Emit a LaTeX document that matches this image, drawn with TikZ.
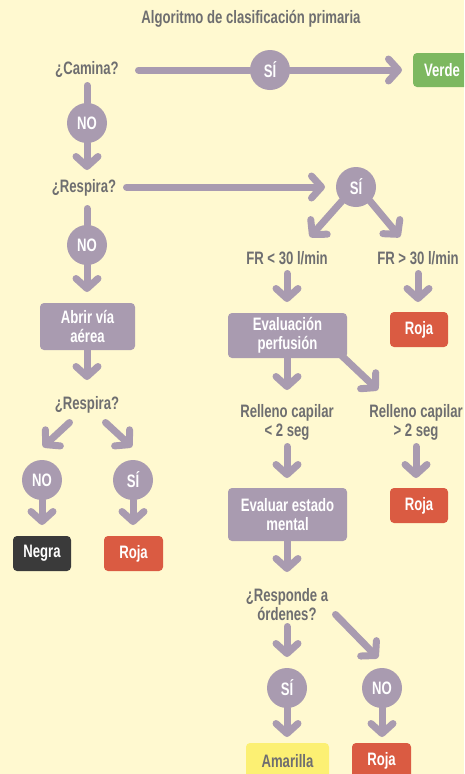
\documentclass[tikz,border=0pt]{standalone}
\usepackage{fontspec}
\newfontfamily\cf{Liberation Sans}[FakeStretch=0.73]
\usetikzlibrary{arrows.meta,calc}
\definecolor{bgc}{HTML}{FFF9D0}
\definecolor{pur}{HTML}{A99BB0}
\definecolor{txt}{HTML}{6E6E70}
\definecolor{grn}{HTML}{7DB860}
\definecolor{rja}{HTML}{DA5B42}
\definecolor{blk}{HTML}{3A3A3A}
\definecolor{ylw}{HTML}{FCF073}
\begin{document}
\begin{tikzpicture}[x=1pt,y=-1pt,
  font=\cf\bfseries\fontsize{18}{19}\selectfont,
  lbl/.style={text=txt, align=center, inner sep=0pt},
  circ/.style={circle, fill=pur, text=white, minimum size=40pt, inner sep=0pt},
  box/.style={rounded corners=4pt, text=white, align=center, inner sep=0pt},
  conn/.style={draw=pur, line width=7pt, line cap=round},
  arr/.style={conn, -{Straight Barb[length=10pt,width=22pt,round]}},
]
\path[use as bounding box, clip] (0,0) rectangle (464,774);
\fill[bgc] (0,0) rectangle (464,774);

% nodes
\node[lbl] (title) at (251,19) {Algoritmo de clasificación primaria};
\node[lbl] (camina) at (87,70) {¿Camina?};
\node[circ] (si1) at (270,70) {SÍ};
\node[box, fill=grn, minimum width=58pt, minimum height=34pt] (verde) at (442,70) {Verde};
\node[circ] (no1) at (87,123) {NO};
\node[lbl] (respira1) at (84,188) {¿Respira?};
\node[circ] (si2) at (356,187) {SÍ};
\node[circ] (no2) at (87,245) {NO};
\node[lbl] (frlt) at (287,258) {FR < 30 l/min};
\node[lbl] (frgt) at (418,258) {FR > 30 l/min};
\node[box, fill=pur, minimum width=95pt, minimum height=47pt] (abrir) at (87.5,326.5) {Abrir vía\\aérea};
\node[box, fill=pur, minimum width=119pt, minimum height=45pt] (evalperf) at (287.5,335.5) {Evaluación\\perfusión};
\node[box, fill=rja, minimum width=58pt, minimum height=35pt] (roja2) at (419,329.5) {Roja};
\node[lbl] (respira2) at (87,405) {¿Respira?};
\node[lbl] (rell1) at (287,422) {Relleno capilar\\< 2 seg};
\node[lbl] (rell2) at (416,422) {Relleno capilar\\> 2 seg};
\node[circ] (no3) at (42,480) {NO};
\node[circ] (si3) at (133,480) {SÍ};
\node[box, fill=blk, minimum width=58pt, minimum height=35pt] (negra) at (42,553.5) {Negra};
\node[box, fill=rja, minimum width=59pt, minimum height=35pt] (roja1) at (133.5,553.5) {Roja};
\node[box, fill=pur, minimum width=119pt, minimum height=53pt] (evalmental) at (287.5,514.5) {Evaluar estado\\mental};
\node[box, fill=rja, minimum width=58pt, minimum height=35pt] (roja3) at (419,505.5) {Roja};
\node[lbl] (responde) at (287,604.5) {¿Responde a\\órdenes?};
\node[circ] (si4) at (287,688) {SÍ};
\node[circ] (no4) at (382,688) {NO};
\node[box, fill=ylw, text=txt, minimum width=83pt, minimum height=36pt] (amarilla) at (287.5,761) {Amarilla};
\node[box, fill=rja, minimum width=59pt, minimum height=36pt] (roja4) at (381.5,761) {Roja};

% connectors
\draw[conn] ($(camina)+(51.5,0)$) -- ($(si1)+(-20,0)$);
\draw[arr] ($(si1)+(20,0)$) -- ($(verde)+(-40,0)$);
\draw[conn] ($(camina)+(0,15.5)$) -- ($(no1)+(0,-20)$);
\draw[arr] ($(no1)+(0,20)$) -- ($(no1 |- respira1)+(0,-18)$);
\draw[arr] ($(respira1)+(42.5,-1)$) -- ($(si2)+(-31,0)$);
\draw[conn] ($(respira1 -| no2)+(0,20.5)$) -- ($(no2)+(0,-20)$);
\draw[arr] ($(no2)+(0,20)$) -- ($(no2 |- abrir)+(0,-34.5)$);
\draw[arr] ($(si2)+(-14,14)$) -- ($(frlt)+(23,-21)$);
\draw[arr] ($(si2)+(14,14)$) -- ($(frgt)+(-18,-21)$);
\draw[arr] ($(frlt)+(0,15.5)$) -- ($(frlt |- evalperf)+(0,-33.5)$);
\draw[arr] ($(frgt)+(0,15.5)$) -- ($(frgt |- roja2)+(0,-27.5)$);
\draw[arr] ($(abrir)+(-0.5,23.5)$) -- ($(respira2)+(0,-25)$);
\draw[arr] ($(respira2)+(-17.5,17.5)$) -- ($(no3)+(1,-33)$);
\draw[arr] ($(respira2)+(18.5,17.5)$) -- ($(si3)+(-1,-33)$);
\draw[arr] ($(no3)+(0,20)$) -- ($(no3 |- negra)+(0,-28.5)$);
\draw[arr] ($(si3)+(0,20)$) -- ($(si3 |- roja1)+(0,-28.5)$);
\draw[arr] ($(evalperf)+(-0.5,22.5)$) -- ($(rell1)+(0,-32)$);
\draw[arr] ($(evalperf.south east)+(-6,-3)$) -- ($(rell2)+(-38,-32)$);
\draw[arr] ($(rell1)+(0,24.5)$) -- ($(rell1 |- evalmental)+(0,-36.5)$);
\draw[arr] ($(rell2)+(0,24.5)$) -- ($(rell2 |- roja3)+(0,-27.5)$);
\draw[arr] ($(evalmental)+(-0.5,26.5)$) -- ($(responde)+(0,-32.5)$);
\draw[arr] ($(responde)+(0,22)$) -- ($(si4)+(0,-31)$);
\draw[arr] ($(responde)+(48.5,10)$) -- ($(no4)+(-4,-30)$);
\draw[arr] ($(si4)+(0,20)$) -- ($(si4 |- amarilla)+(0,-24)$);
\draw[arr] ($(no4)+(0,20)$) -- ($(no4 |- roja4)+(0,-24)$);
\end{tikzpicture}
\end{document}
